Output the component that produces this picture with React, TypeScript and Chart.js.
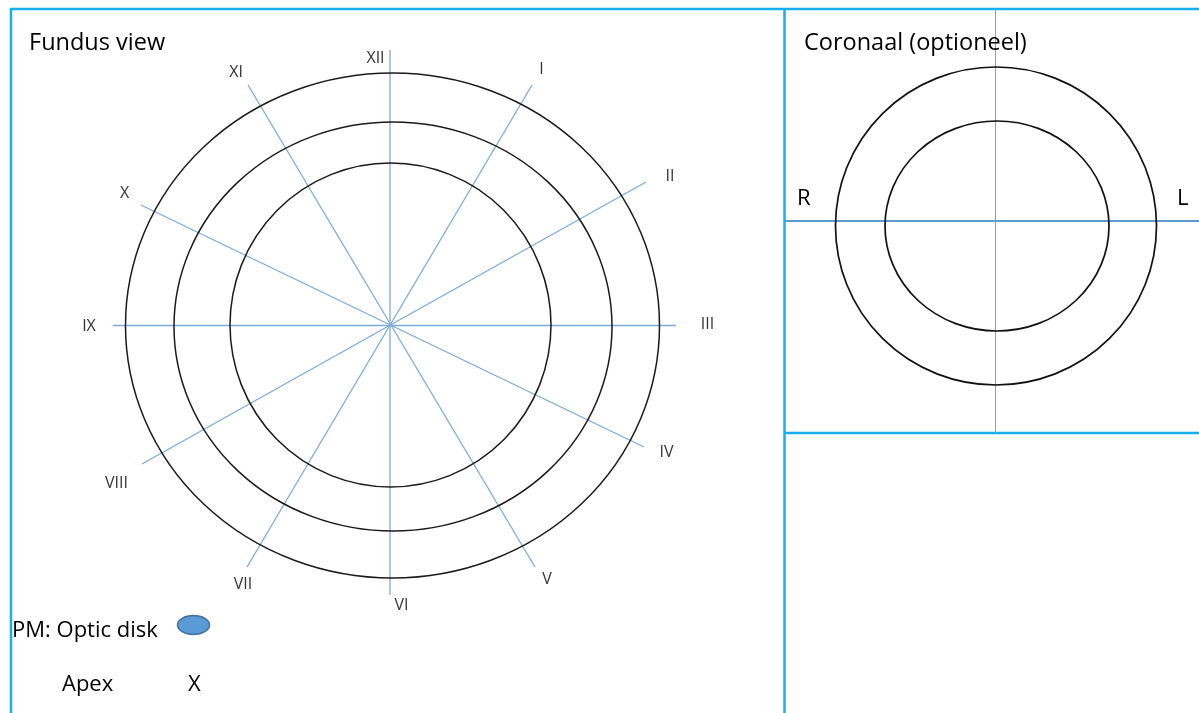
import React, { useEffect, useRef } from "react";
import { Chart, registerables } from "chart.js";

Chart.register(...registerables);

// ---- Coordinate frame (data units = page pixels) ----
const FRAME_W = 1199;
const FRAME_H = 713;

// ---- Fundus view: clock-hour spokes (each line runs through the centre) ----
const spokeAX = [390, 532, 646, 676, 644, 535];
const spokeAY = [50, 85, 182, 325.5, 447, 567];
const spokeBX = [390, 247, 142, 113, 141, 248];
const spokeBY = [595, 567, 464, 325.5, 205, 85];

// ---- Fundus clock-hour labels ----
const hourLabels = ["XII", "I", "II", "III", "IV", "V", "VI", "VII", "VIII", "IX", "X", "XI"];
const hourLabelX = [375.5, 541.5, 670, 707.5, 666.5, 547, 401.5, 243, 116.5, 89, 124.5, 236];
const hourLabelY = [58.5, 69.5, 176, 324, 452, 579.5, 605, 584.5, 483, 326, 193.5, 72.5];

// ---- Fundus rings (ellipses) ----
const fundusRingCX = [392.5, 393, 390.5];
const fundusRingCY = [325.5, 326.5, 325];
const fundusRingRX = [267, 219, 160.5];
const fundusRingRY = [252.5, 204.5, 162];

// ---- Coronal view rings ----
const coronalRingCX = [996, 997];
const coronalRingCY = [226, 226];
const coronalRingRX = [160.5, 112];
const coronalRingRY = [159, 105];

// ---- Coronal axes ----
const coronalHX = [785, 1199];
const coronalHY = [221, 221];
const coronalVX = [995.5, 995.5];
const coronalVY = [9, 433];

// ---- Table borders ----
const borderX1 = [10, 11, 784.5, 785];
const borderY1 = [9, 8, 8, 433];
const borderX2 = [1199, 11, 784.5, 1199];
const borderY2 = [9, 713, 713, 433];

// ---- Optic disk marker ----
const opticDisk = { cx: 193.5, cy: 625, rx: 16, ry: 9.5 };

// ---- Texts ----
const textLabels = ["Fundus view", "Coronaal (optioneel)", "R", "L", "PM: Optic disk", "Apex", "X"];
const textX = [29, 804, 797, 1177, 12, 62, 188];
const textY = [50, 50, 205, 205, 637, 691, 691];
const textSize = [23.5, 23.5, 22, 22, 22, 22, 22];

const FONT = "'Open Sans', 'Noto Sans', sans-serif";

const diagramPlugin = {
  id: "diagramPlugin",
  afterDatasetsDraw(chart: any) {
    const { ctx } = chart;
    const xs = chart.scales.x;
    const ys = chart.scales.y;
    const px = (v: number) => xs.getPixelForValue(v);
    const py = (v: number) => ys.getPixelForValue(v);
    const rx = (r: number) => Math.abs(xs.getPixelForValue(r) - xs.getPixelForValue(0));
    const ry = (r: number) => Math.abs(ys.getPixelForValue(r) - ys.getPixelForValue(0));

    ctx.save();
    // fundus rings
    ctx.strokeStyle = "#1a1a1a";
    ctx.lineWidth = 1.5;
    fundusRingCX.forEach((cx, i) => {
      ctx.beginPath();
      ctx.ellipse(px(cx), py(fundusRingCY[i]), rx(fundusRingRX[i]), ry(fundusRingRY[i]), 0, 0, Math.PI * 2);
      ctx.stroke();
    });
    // coronal rings
    ctx.strokeStyle = "#111";
    ctx.lineWidth = 1.7;
    coronalRingCX.forEach((cx, i) => {
      ctx.beginPath();
      ctx.ellipse(px(cx), py(coronalRingCY[i]), rx(coronalRingRX[i]), ry(coronalRingRY[i]), 0, 0, Math.PI * 2);
      ctx.stroke();
    });
    // optic disk
    ctx.beginPath();
    ctx.ellipse(px(opticDisk.cx), py(opticDisk.cy), rx(opticDisk.rx), ry(opticDisk.ry), 0, 0, Math.PI * 2);
    ctx.fillStyle = "#5b9bd5";
    ctx.fill();
    ctx.strokeStyle = "#41719c";
    ctx.lineWidth = 1.5;
    ctx.stroke();

    // hour labels
    ctx.fillStyle = "#333333";
    ctx.font = `16px ${FONT}`;
    ctx.textAlign = "center";
    ctx.textBaseline = "middle";
    hourLabels.forEach((t, i) => {
      ctx.fillText(t, px(hourLabelX[i]), py(hourLabelY[i]));
    });

    // other texts
    ctx.fillStyle = "#000";
    ctx.textAlign = "left";
    ctx.textBaseline = "alphabetic";
    textLabels.forEach((t, i) => {
      ctx.font = `${textSize[i]}px ${FONT}`;
      ctx.fillText(t, px(textX[i]), py(textY[i]));
    });
    ctx.restore();
  },
};

function seg(x1: number, y1: number, x2: number, y2: number, color: string, width: number) {
  return {
    type: "scatter" as const,
    data: [
      { x: x1, y: y1 },
      { x: x2, y: y2 },
    ],
    showLine: true,
    borderColor: color,
    backgroundColor: color,
    borderWidth: width,
    pointRadius: 0,
    pointHoverRadius: 0,
    clip: false as any,
  };
}

export default function App() {
  const canvasRef = useRef<HTMLCanvasElement | null>(null);

  useEffect(() => {
    if (!canvasRef.current) return;
    const datasets: any[] = [];
    spokeAX.forEach((_, i) => {
      datasets.push(seg(spokeAX[i], spokeAY[i], spokeBX[i], spokeBY[i], "#7eaad6", 1.3));
    });
    datasets.push(seg(coronalHX[0], coronalHY[0], coronalHX[1], coronalHY[1], "#5b9bd5", 2));
    datasets.push(seg(coronalVX[0], coronalVY[0], coronalVX[1], coronalVY[1], "#7f9fc4", 1));
    borderX1.forEach((_, i) => {
      datasets.push(seg(borderX1[i], borderY1[i], borderX2[i], borderY2[i], "#12b0ee", 2.5));
    });

    const chart = new Chart(canvasRef.current, {
      type: "scatter",
      data: { datasets },
      options: {
        animation: false,
        responsive: false,
        maintainAspectRatio: false,
        layout: { padding: 0 },
        events: [],
        plugins: {
          legend: { display: false },
          tooltip: { enabled: false },
          title: { display: false },
        },
        scales: {
          x: { type: "linear", min: 0, max: FRAME_W, display: false },
          y: { type: "linear", min: 0, max: FRAME_H, reverse: true, display: false },
        },
      },
      plugins: [diagramPlugin],
    });
    return () => chart.destroy();
  }, []);

  return (
    <div style={{ position: "fixed", left: 0, top: 0, width: FRAME_W, height: FRAME_H, background: "#fff" }}>
      <canvas ref={canvasRef} width={FRAME_W} height={FRAME_H} style={{ display: "block" }} />
    </div>
  );
}
